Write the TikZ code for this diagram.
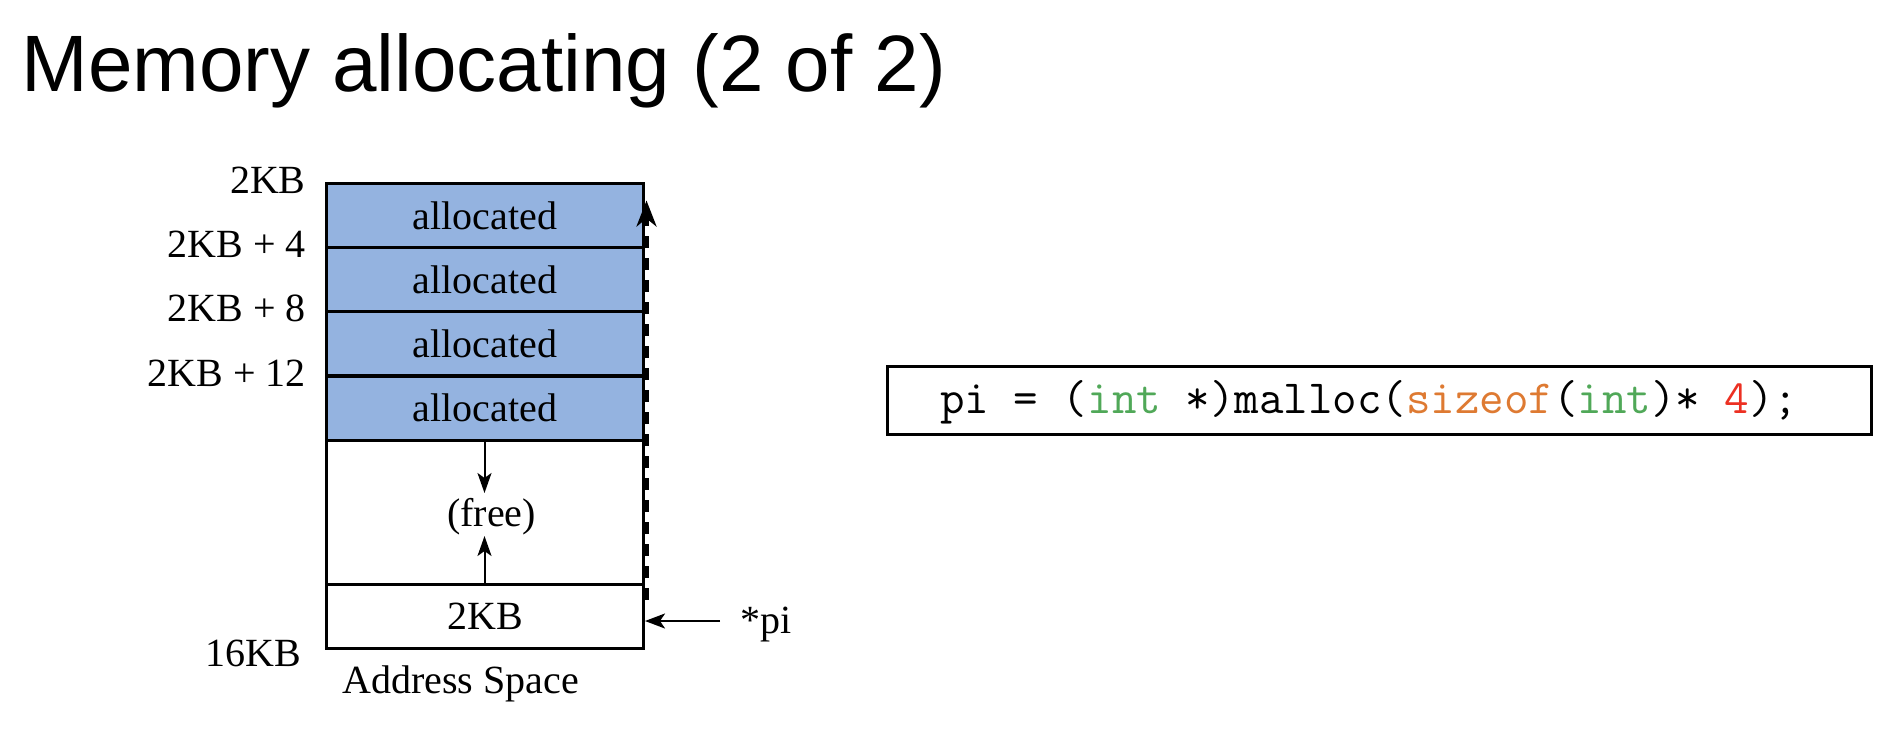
\documentclass[tikz,border=0pt]{standalone}
\usepackage{fontspec}
\setmainfont{Liberation Serif}
\newfontfamily\titlefont{Liberation Sans}
\usetikzlibrary{arrows.meta}
\definecolor{allocblue}{RGB}{148,179,224}
\definecolor{codegreen}{RGB}{80,168,88}
\definecolor{codeorange}{RGB}{222,122,50}
\definecolor{codered}{RGB}{236,48,34}
\tikzset{
  cell/.style={draw=black, line width=1.5pt, minimum width=158.5pt, inner sep=0pt, font=\fontsize{20}{24}\selectfont},
  alloc/.style={cell, fill=allocblue, minimum height=32pt},
  lbl/.style={inner sep=0pt, font=\fontsize{20}{24}\selectfont},
  thinarrow/.style={line width=1pt, -{Stealth[length=10pt,width=7pt,inset=2.5pt]}},
  growarrow/.style={line width=2pt, dash pattern=on 6pt off 5pt, -{Stealth[length=13pt,width=10pt,inset=4pt]}},
}
\begin{document}
\begin{tikzpicture}[x=0.5pt,y=-0.5pt]
\useasboundingbox (0,0) rectangle (1904,740);
% title
\node[anchor=base west, inner sep=0pt, font=\titlefont\fontsize{40}{48}\selectfont] (title) at (21,91) {Memory allocating (2 of 2)};
% cells
\node[alloc] (r1) at (485,215.5) {allocated};
\node[alloc] (r2) at (485,279.5) {allocated};
\node[alloc] (r3) at (485,343.75) {allocated};
\node[alloc] (r4) at (485,408) {allocated};
\node[cell, fill=white, minimum height=72pt] (free) at (485,512) {};
\node[cell, fill=white, minimum height=32pt] (bot) at (485,616) {2KB};
\node[lbl, anchor=base] (freetxt) at (491.5,526.5) {(free)};
% address labels
\node[lbl, anchor=base east] (a0) at (306,193.5) {2KB};
\node[lbl, anchor=base east] (a4) at (306,257.5) {2KB + 4};
\node[lbl, anchor=base east] (a8) at (306,321.5) {2KB + 8};
\node[lbl, anchor=base east] (a12) at (306,386.5) {2KB + 12};
\node[lbl, anchor=base east] (a16) at (301.5,666.5) {16KB};
\node[lbl, anchor=base west] (as) at (342,693) {Address Space};
% free-space arrows
\coordinate (dn1) at (484.5,441);
\coordinate (dn2) at (484.5,493);
\coordinate (up1) at (484.5,583);
\coordinate (up2) at (484.5,536);
\draw[thinarrow] (dn1) -- (dn2);
\draw[thinarrow] (up1) -- (up2);
% growth arrow
\coordinate (gBot) at (646.5,600);
\coordinate (gTop) at (646.5,200.5);
\draw[growarrow] (gBot) -- (gTop);
% pointer
\node[lbl, anchor=base west] (pi) at (740,633) {*pi};
\coordinate (piS) at (720,621);
\draw[line width=1.2pt, -{Stealth[length=10pt,width=7.5pt,inset=2.5pt]}] (piS) -- (bot.east |- piS);
% code box
\node[draw=black, line width=1.5pt, minimum width=492pt, minimum height=34.2pt, inner sep=0pt, anchor=north west] (codebox) at (885.7,365) {};
\node[anchor=base west, inner sep=0pt, font=\ttfamily\fontsize{23.8}{28}\selectfont] (code) at (940,413)
  {pi = (\textcolor{codegreen}{int} *)malloc(\textcolor{codeorange}{sizeof}(\textcolor{codegreen}{int})* \textcolor{codered}{4});};
\end{tikzpicture}
\end{document}
